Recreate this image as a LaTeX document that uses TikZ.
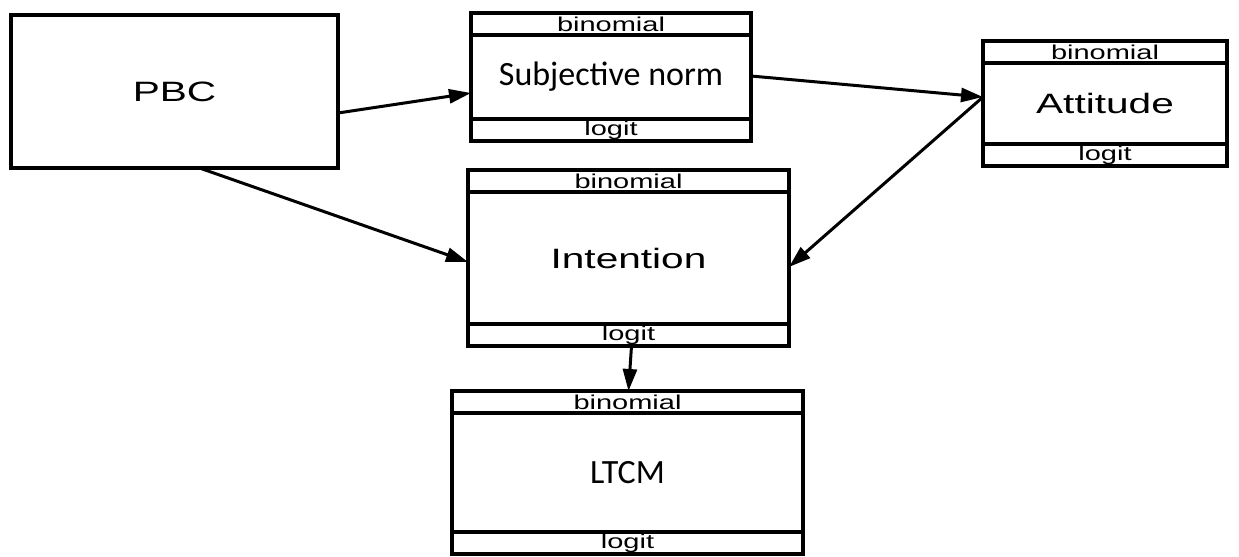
\documentclass[tikz,border=0pt]{standalone}
\usepackage{fontspec}
\newfontfamily\arialw[FakeStretch=1.45]{Liberation Sans}
\newfontfamily\calib{Carlito}
\usetikzlibrary{arrows.meta,positioning,calc}

\begin{document}
\begin{tikzpicture}[
  x=0.5pt, y=-0.5pt,
  node distance=0pt,
  box/.style={draw, line width=1.7pt, outer sep=0pt, inner sep=0pt, align=center},
  strip/.style={box, minimum height=11pt, font=\arialw\fontsize{10}{10}\selectfont},
  wide/.style={font=\arialw\fontsize{14}{14}\selectfont},
  calibri/.style={font=\calib\fontsize{17}{17}\selectfont},
  arr/.style={-{Triangle[length=11pt,width=7pt]}, line width=1.5pt}
]
\useasboundingbox (0,0) rectangle (1239,557);

\node[box, wide, minimum width=163.5pt, minimum height=76.5pt] (pbc) at (174.5,91.5) {PBC};

\node[box, calibri, minimum width=140pt, minimum height=42pt] (subj) at (611,77) {Subjective norm};
\node[strip, minimum width=140pt, above=of subj] (subjB) {binomial};
\node[strip, minimum width=140pt, below=of subj] (subjL) {logit};

\node[box, wide, minimum width=122pt, minimum height=40.5pt] (att) at (1105,103.5) {Attitude};
\node[strip, minimum width=122pt, above=of att] (attB) {binomial};
\node[strip, minimum width=122pt, below=of att] (attL) {logit};

\node[box, wide, minimum width=160.5pt, minimum height=66pt] (int) at (628.5,258) {Intention};
\node[strip, minimum width=160.5pt, above=of int] (intB) {binomial};
\node[strip, minimum width=160.5pt, below=of int] (intL) {logit};

\node[box, calibri, minimum width=175.5pt, minimum height=59.5pt] (ltcm) at (627.5,472.5) {LTCM};
\node[strip, minimum width=175.5pt, above=of ltcm] (ltcmB) {binomial};
\node[strip, minimum width=175.5pt, below=of ltcm] (ltcmL) {logit};

\draw[arr] ($(pbc.east)+(0,21.5)$) -- ($(subj.west)+(0,16)$);
\draw[arr] ($(subj.east)+(0,-1)$) -- ($(att.west)+(0,-6.5)$);
\draw[arr] ($(att.west)+(0,-6.5)$) -- ($(int.east)+(0,9)$);
\draw[arr] ($(pbc.south)+(25,0)$) -- ($(int.west)+(0,4)$);
\draw[arr] ($(intL.south)+(3,0)$) -- ($(ltcmB.north)+(1,0)$);
\end{tikzpicture}
\end{document}
